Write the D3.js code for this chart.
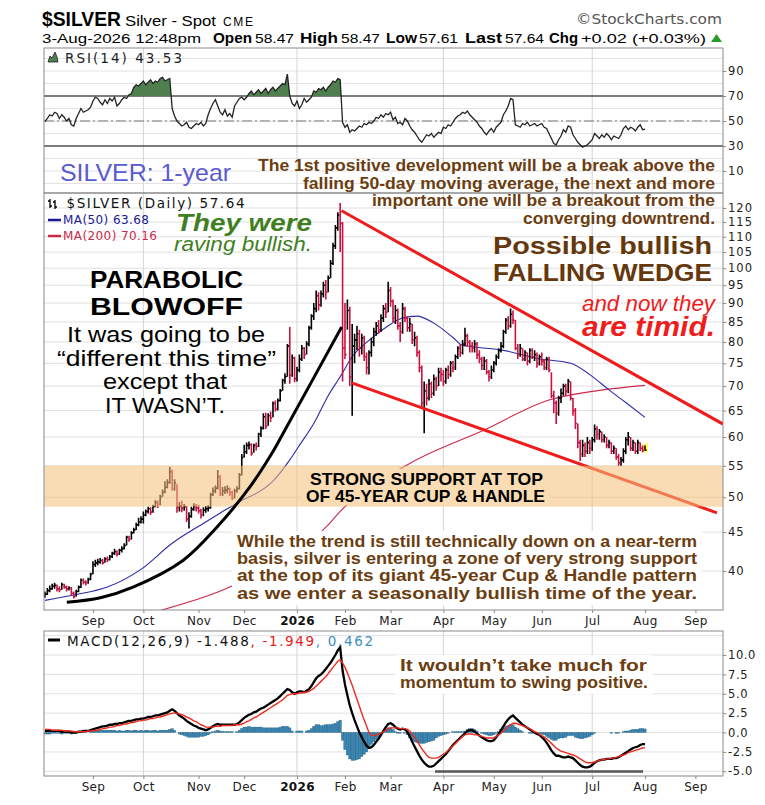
<!DOCTYPE html>
<html><head><meta charset="utf-8">
<script src="https://cdn.jsdelivr.net/npm/d3@7"></script>
<style>html,body{margin:0;padding:0;background:#fff;}svg{display:block;}</style>
</head><body>
<svg id="chart" width="765" height="805"></svg>
<script>
// ================= DATA =================
const startDate = "2025-08-04";
const holidays = ["2025-09-01","2025-11-27","2025-12-25","2026-01-01","2026-01-19","2026-02-16","2026-04-03","2026-05-25","2026-06-19","2026-07-03","2026-09-07"];

const closes = [
37.3,37.7,37.9,38.2,38.3,37.9,37.8,38.4,38.1,37.9,38.0,37.4,37.0,37.6,38.1,38.9,38.7,38.6,39.0,39.6,
40.8,41.0,41.1,41.3,41.0,41.5,41.4,41.8,42.2,42.4,42.1,42.6,42.8,43.2,44.3,44.0,44.9,45.3,46.0,46.4,46.8,
47.4,47.9,48.3,47.8,48.6,49.2,48.9,50.0,50.8,51.5,52.3,54.0,51.3,52.2,48.5,48.7,48.4,48.6,46.8,47.2,48.2,48.6,48.4,
48.0,47.4,48.1,48.3,48.4,50.4,51.0,51.4,53.2,50.6,51.0,51.1,51.3,50.7,49.9,51.0,51.3,53.5,56.4,
57.4,58.5,58.6,57.1,58.5,58.3,60.5,61.6,63.8,62.0,64.0,63.6,66.4,65.3,67.0,69.0,71.2,72.0,79.0,72.3,76.2,71.6,
73.5,76.0,78.5,77.0,79.5,83.5,86.5,88.5,92.0,89.5,92.5,95.0,93.0,97.0,101.5,107.0,113.0,117.5,114.5,78.5,
77.0,88.0,72.0,79.0,80.5,82.0,78.5,81.0,76.5,74.0,77.5,80.0,82.5,84.0,83.0,86.0,88.5,87.5,93.5,
90.5,86.0,88.0,84.0,82.5,88.5,86.0,83.5,84.5,80.5,81.0,77.5,74.0,66.5,69.0,67.5,70.5,68.5,71.5,70.0,73.0,72.5,
71.0,73.5,72.5,75.0,74.0,76.5,78.5,77.5,79.5,81.5,80.0,79.0,78.5,79.5,77.0,76.0,74.5,75.5,73.0,72.0,73.5,
75.0,76.5,78.0,79.0,82.5,85.5,84.0,87.0,85.5,78.5,77.0,78.5,76.0,77.5,75.5,78.0,76.5,77.0,75.0,76.5,
75.5,74.0,76.0,73.5,68.0,66.5,64.5,67.5,68.5,70.0,69.0,71.0,67.5,65.0,62.5,59.0,57.0,58.5,57.5,59.0,58.0,
59.5,61.5,60.5,61.0,59.5,60.0,58.5,59.0,57.5,58.0,56.5,55.5,56.0,57.5,59.5,60.0,58.0,59.0,57.5,59.0,58.0,57.6,
57.64];
const highs = [
37.6,38.0,38.3,38.5,38.6,38.4,38.2,38.6,38.5,38.3,38.2,38.1,37.6,37.8,38.3,39.1,39.1,38.9,39.2,39.8,
41.2,41.4,41.5,41.6,41.5,41.7,41.8,42.0,42.4,42.8,42.6,42.8,43.1,43.5,44.5,44.5,45.1,45.6,46.3,47.0,47.2,
47.9,48.2,48.6,48.5,48.9,49.6,49.5,50.4,51.2,52.5,52.8,54.8,54.4,52.8,52.0,49.3,49.5,49.0,48.7,47.8,48.6,49.1,49.0,
48.9,48.3,48.5,48.7,48.8,50.7,51.5,51.8,54.3,53.5,51.6,51.7,51.8,51.5,51.0,51.3,51.7,53.8,57.0,
58.6,59.0,59.2,58.9,58.8,59.0,60.8,62.0,64.5,64.6,64.5,64.8,66.8,67.0,67.4,69.4,71.6,72.8,79.5,83.7,77.0,76.5,
74.2,77.0,79.3,78.8,80.2,84.0,87.0,90.0,93.5,93.0,93.5,96.0,96.5,97.8,102.5,108.0,114.0,118.5,121.8,115.0,
90.0,91.0,89.0,84.5,82.0,84.0,83.0,82.0,81.5,77.5,78.0,81.0,83.5,85.0,85.5,87.0,89.5,90.0,96.0,
94.5,91.0,89.5,88.5,85.0,90.0,89.0,86.5,86.0,84.5,82.5,81.5,78.0,74.5,71.0,70.5,71.5,71.0,72.5,72.0,74.0,74.0,
73.5,74.0,74.5,75.5,75.5,77.0,79.0,79.5,80.5,83.5,82.0,80.5,80.0,80.5,80.0,78.0,76.5,76.5,76.0,73.5,74.5,
75.5,77.0,78.5,80.0,83.0,86.0,86.5,88.5,88.0,85.5,79.5,79.5,78.5,78.0,77.5,78.5,78.5,78.0,77.5,77.0,
77.5,76.0,76.5,76.5,73.0,69.0,67.0,68.0,69.5,70.5,70.5,71.5,71.0,67.5,65.5,62.5,59.5,59.5,59.0,60.0,59.5,
60.0,62.3,62.0,61.5,61.0,60.5,60.0,59.5,59.0,58.5,58.0,57.0,56.5,58.0,60.0,60.9,60.0,59.5,59.0,59.5,59.0,58.5,
58.47];
const lows = [
36.9,37.2,37.5,37.8,37.9,37.6,37.5,37.8,37.9,37.6,37.7,37.2,36.8,37.0,37.5,38.0,38.4,38.3,38.5,38.9,
39.6,40.5,40.7,40.9,40.8,41.0,41.1,41.3,41.6,42.0,41.8,42.0,42.3,42.7,43.2,43.7,44.0,44.8,45.3,45.8,46.2,
46.2,47.2,47.6,47.4,47.7,48.5,48.4,48.8,50.1,50.6,51.4,52.1,51.0,51.0,47.7,47.9,47.8,48.0,46.4,45.5,47.0,48.0,47.9,
47.6,46.9,47.2,47.7,47.9,48.3,50.2,50.6,51.2,50.2,50.2,50.5,50.6,50.2,49.6,49.8,50.7,51.2,53.4,
56.4,57.0,57.8,56.7,57.2,57.6,58.2,60.0,61.4,61.5,62.1,62.8,63.7,64.8,65.0,66.8,69.0,70.5,72.0,70.5,72.0,70.8,
71.0,73.0,75.5,76.0,77.0,79.0,83.0,85.5,87.5,88.0,89.0,91.5,91.0,93.0,97.0,101.0,106.0,112.0,105.0,71.0,
76.0,83.0,70.0,64.0,75.0,78.0,76.5,77.0,75.5,72.5,72.5,76.5,79.0,81.5,82.0,82.5,85.0,86.0,87.5,
89.0,85.0,84.5,83.0,80.0,82.0,85.0,82.5,82.5,79.5,79.0,76.5,73.0,65.5,60.7,66.0,67.0,67.5,68.0,69.0,70.0,71.0,
70.0,70.5,71.5,72.0,73.0,73.5,76.0,76.5,77.0,79.0,79.0,77.5,77.5,77.5,76.0,75.0,73.5,73.5,72.5,71.0,71.5,
73.0,74.5,76.0,77.5,78.5,82.0,83.0,83.5,84.5,78.0,76.0,76.5,75.5,75.5,74.5,75.0,76.0,75.5,74.0,74.5,
74.5,73.5,73.5,73.0,67.5,64.5,62.4,64.0,66.5,68.0,68.0,68.5,67.0,64.0,61.5,58.0,55.8,56.5,56.5,57.0,57.0,
57.5,59.0,59.5,59.5,59.0,59.0,58.0,58.0,57.0,57.0,56.0,55.0,55.0,55.5,57.0,58.5,57.5,57.5,57.0,57.0,57.5,57.3,
57.61];

const rsi = [
49.5,52,55,54,57,56,52,55,53,50,52, 47,46, 52,56,60,57,58,59,61,
66,69,68,65,63,67,64,68,66,69, 62, 64,67,69,68,71,72,
77,79,78,80,82,79,81,83,80,82,81,84,85,82,83,84, 60,54,
50,48,46,47,49,45,44,46,48,47,49,46,48, 55,60,64,67,62, 57,55,59,54,56,53,
62,65,68,69,67,69, 72,74,71,73,75,72,74,76,72,75,77,74,76,78,80,79, 87.5, 70,
64,62,66,60,63,68,65,67, 69,74,73,76,75,77,74,77,79, 82,81,84,83,
49,45,47,41,43,42,44, 46,45,48,47,49,48,50, 53,52,55,53,56,55,57, 51,53,48,49,47,52,50,
46,43,41,38,35,33, 36,39,38,40,37,39,41,40, 45,44,47,46,49,52,54,55, 57,56,58,55,
53,51,49,46,44,41,39, 42,44,41,45,47,49, 55,58,62,68,67, 47,
46,45,48,47,49,46,47,48,46,47,48,45,44, 40,36,32,31,35,38, 43,41,46,45,
39,36,33,31,29,30,31,33,35, 40,38,36,39,37,40,38,35,38,37,36,39, 44,46,43,45,44,42,45,47,43,43.53];

const macdLine = [
0.2,0.2,0.2,0.2,0.2,0.2,0.2,0.1,0.1,0.1,0.1,0.0,0.0,0.0,0.1,0.1,0.2,0.2,0.2,0.3,0.4,
0.5,0.6,0.7,0.8,0.8,0.9,1.0,1.0,1.1,1.1,1.2,1.2,1.3,1.4,1.5,1.5,1.6,1.7,1.7,1.8,
1.8,1.9,2.0,2.0,2.1,2.2,2.2,2.3,2.4,2.5,2.6,2.8,3.0,
2.8,2.5,2.2,2.0,1.8,1.5,1.3,1.1,0.9,0.8,0.6,0.5,0.4,0.3,
0.4,0.6,0.8,1.0,1.1,1.0,1.0,1.0,1.0,1.0,1.0,1.0,1.1,
1.3,1.6,1.9,2.1,2.3,2.4,2.6,2.7,2.9,3.1,3.2,3.4,3.6,3.8,4.0,4.2,4.4,4.7,5.0,5.3,5.6,5.5,
5.2,5.0,5.2,5.3,5.3,5.2,5.4,5.6,6.0,6.5,
7.0,7.3,7.5,7.8,8.2,8.6,9.0,9.5,10.0,10.6,11.0,
8.0,6.2,4.8,3.5,2.5,1.6,0.8,0.0,-0.6,-1.2,-1.7,-2.0,
-1.9,-1.6,-1.2,-0.8,-0.3,0.2,0.7,1.1,1.2,
1.0,0.7,0.5,0.4,0.5,0.4,0.1,
-0.5,-1.2,-1.8,-2.4,-3.0,-3.5,-3.9,-4.2,-4.4,-4.4,-4.3,
-4.0,-3.7,-3.4,-3.1,-2.8,-2.4,-2.0,-1.6,-1.3,-1.0,-0.7,-0.4,-0.1,0.2,0.3,0.3,
0.1,-0.1,-0.4,-0.6,-0.8,-1.0,-1.1,-1.1,-1.0,
-0.6,-0.2,0.3,0.8,1.3,1.7,2.0,2.2,
1.9,1.6,1.3,1.0,0.8,0.6,0.4,0.2,0.0,-0.2,-0.3,
-0.6,-0.9,-1.3,-1.8,-2.3,-2.7,-3.0,-3.0,-3.1,
-3.2,-3.2,-3.1,-3.2,-3.3,-3.6,-3.9,-4.2,
-4.4,-4.5,-4.5,-4.4,-4.2,-3.9,
-3.7,-3.6,-3.5,-3.5,-3.4,-3.4,-3.4,-3.3,
-3.3,-3.2,-3.0,-2.8,-2.6,-2.4,-2.2,-2.0,-1.9,-1.8,-1.6,-1.5,-1.488];
const signalLine = [
0.4,0.4,0.4,0.3,0.3,0.3,0.3,0.3,0.2,0.2,0.2,0.2,0.1,0.1,0.1,0.1,0.1,0.1,0.2,0.2,0.2,
0.3,0.3,0.4,0.5,0.5,0.6,0.7,0.7,0.8,0.9,0.9,1.0,1.1,1.1,1.2,1.3,1.3,1.4,1.5,1.5,
1.6,1.6,1.7,1.8,1.8,1.9,2.0,2.0,2.1,2.2,2.3,2.4,2.5,
2.5,2.5,2.4,2.3,2.2,2.0,1.9,1.7,1.5,1.4,1.2,1.0,0.9,0.7,
0.7,0.7,0.7,0.8,0.8,0.8,0.9,0.9,0.9,0.9,0.9,1.0,1.0,
1.0,1.1,1.2,1.4,1.5,1.7,1.9,2.0,2.2,2.4,2.6,2.8,3.0,3.2,3.4,3.6,3.8,4.0,4.2,4.5,4.8,4.9,
5.0,5.0,5.0,5.1,5.1,5.2,5.2,5.3,5.5,5.7,
6.0,6.3,6.6,6.9,7.2,7.6,8.0,8.4,8.8,9.2,9.4,
9.0,8.4,7.7,6.9,6.1,5.2,4.3,3.4,2.5,1.6,0.8,0.0,
-0.4,-0.4,-0.3,-0.2,-0.1,0.1,0.3,0.5,0.6,
0.6,0.6,0.6,0.5,0.5,0.5,0.4,
0.2,-0.2,-0.6,-1.1,-1.6,-2.1,-2.5,-2.9,-3.2,-3.3,-3.3,
-3.3,-3.2,-3.0,-2.8,-2.6,-2.3,-2.0,-1.7,-1.4,-1.1,-0.8,-0.5,-0.3,-0.2,-0.2,-0.2,
-0.3,-0.3,-0.4,-0.5,-0.6,-0.7,-0.7,-0.7,-0.7,
-0.5,-0.3,-0.1,0.2,0.5,0.8,1.0,1.2,
1.2,1.1,1.0,0.9,0.8,0.6,0.5,0.3,0.1,0.0,-0.2,
-0.4,-0.6,-0.8,-1.1,-1.4,-1.7,-2.0,-2.2,-2.4,
-2.5,-2.6,-2.7,-2.8,-2.9,-3.0,-3.2,-3.4,
-3.6,-3.8,-3.9,-3.9,-3.9,-3.8,
-3.7,-3.6,-3.5,-3.5,-3.4,-3.4,-3.3,-3.3,
-3.2,-3.1,-3.0,-2.9,-2.8,-2.6,-2.5,-2.4,-2.3,-2.2,-2.1,-2.0,-1.949];

// moving averages: [trading-day index, value]
const ma50 = [[0,36.6],[12,37.2],[26,38.1],[40,40.2],[53,43.5],[67,46.4],[76,48.3],[81,49.3],[95,52.5],[102,56.0],[106,58.5],[112,62.5],[118,68.0],[123,72.0],[128,76.5],[135,80.4],[142,83.6],[149,86.0],[155,86.5],[162,84.7],[170,81.1],[174,79.2],[179,78.8],[191,78.0],[205,76.1],[219,75.0],[228,72.1],[235,69.2],[242,66.6],[250,63.68]];
const ma200 = [[48,35.5],[77,38.1],[118,46.0],[123,47.9],[152,55.4],[183,61.3],[210,67.1],[231,69.1],[250,70.16]];

// annotation geometry in data terms: [trading-day index, price]
const wedgeUpper = [[123.6,119.0],[282.5,62.4]];
const wedgeLower = [[127.8,70.7],[280.0,47.7]];
const parabola = [[9.1,36.4],[23.1,36.9],[36.7,38.1],[57.5,41.3],[71.7,45.7],[85.4,51.6],[93.8,56.6],[100.0,61.3],[123.6,83.7]];
const supportBand = [48.6, 55.0];
const macdSupport = [[162.5,-5.03],[249.2,-5.03]];

const priceTicks = [120,115,110,105,100,95,90,85,80,75,70,65,60,55,50,45,40];
const rsiTicks = [90,70,50,30,10];
const macdTicks = [10,7.5,5,2.5,0,-2.5,-5];
const monthLabels = ["Sep","Oct","Nov","Dec","2026","Feb","Mar","Apr","May","Jun","Jul","Aug","Sep"];
const monthStarts = ["2025-09-01","2025-10-01","2025-11-01","2025-12-01","2026-01-01","2026-02-01","2026-03-01","2026-04-01","2026-05-01","2026-06-01","2026-07-01","2026-08-01","2026-09-01"];
const quarterStarts = ["2025-10-01","2026-01-01","2026-04-01","2026-07-01"];

// ================= CALENDAR =================
function tradingDays(start, n){
  const out=[]; const hs=new Set(holidays);
  let d=new Date(start+"T00:00:00Z");
  while(out.length<n){
    const dow=d.getUTCDay(); const s=d.toISOString().slice(0,10);
    if(dow!==0 && dow!==6 && !hs.has(s)) out.push(s);
    d=new Date(d.getTime()+86400000);
  }
  return out;
}
const days = tradingDays(startDate, 300);
const idxOf = s => days.findIndex(d => d >= s);
const monthIdx = monthStarts.map(idxOf);
const quarterIdx = quarterStarts.map(idxOf);

// ================= LAYOUT / SCALES =================
const X0=44, X1=723;
const RT=48, RB=193, PT=193, PB=610, MT=631, MB=776;
const x  = d3.scaleLinear().domain([-0.4,282.5]).range([X0,X1]);
const yR = d3.scaleLinear().domain([-7.6,108.4]).range([RB,RT]);
const yP = d3.scaleLog().domain([35.55,125.57]).range([PB,PT]);
const yM = d3.scaleLinear().domain([-5.61,13.1]).range([MB,MT]);

const svg = d3.select("#chart");
const defs = svg.append("defs");
function clip(id,x0,y0,x1,y1){defs.append("clipPath").attr("id",id).append("rect").attr("x",x0).attr("y",y0).attr("width",x1-x0).attr("height",y1-y0);}
clip("cR",X0,RT,X1,RB); clip("cP",X0,PT,X1,PB); clip("cM",X0,MT,X1,MB);
clip("cRup",X0,RT,X1,yR(70)); clip("cRdn",X0,yR(30),X1,RB);

svg.append("rect").attr("width",765).attr("height",805).attr("fill","#fff");

const SANS="'Liberation Sans', Arial, sans-serif";
const NARROW="'Liberation Sans Narrow','Liberation Sans', Arial, sans-serif";
const DV="'DejaVu Sans', Verdana, sans-serif";
function T(g,s,o){
  const t=g.append("text").attr("x",o.x).attr("y",o.y).text(s)
    .attr("font-family",o.f||SANS).attr("font-size",o.size).attr("fill",o.fill||"#000");
  if(o.w) t.attr("font-weight",o.w);
  if(o.it) t.attr("font-style","italic");
  if(o.tl) t.attr("textLength",o.tl).attr("lengthAdjust",o.la||"spacingAndGlyphs");
  if(o.anchor) t.attr("text-anchor",o.anchor);
  return t;
}

// ================= GRID =================
const grid=svg.append("g");
d3.range(0,101,10).forEach(v=>grid.append("line").attr("x1",X0).attr("x2",X1).attr("y1",yR(v)).attr("y2",yR(v)).attr("stroke","#e3e3e3"));
priceTicks.forEach(v=>grid.append("line").attr("x1",X0).attr("x2",X1).attr("y1",yP(v)).attr("y2",yP(v)).attr("stroke","#e0e0e0"));
[-5,-2.5,0,2.5,5,7.5,10,12.5].forEach(v=>grid.append("line").attr("x1",X0).attr("x2",X1).attr("y1",yM(v)).attr("y2",yM(v)).attr("stroke","#e0e0e0"));
quarterIdx.forEach(i=>{
  [[RT,RB],[PT,PB],[MT,MB]].forEach(([a,b])=>grid.append("line").attr("x1",x(i)).attr("x2",x(i)).attr("y1",a).attr("y2",b).attr("stroke","#d4d4d4"));
});

// ================= RSI PANEL =================
const gR=svg.append("g");
gR.append("line").attr("x1",X0).attr("x2",X1).attr("y1",yR(70)).attr("y2",yR(70)).attr("stroke","#555").attr("stroke-width",1.3);
gR.append("line").attr("x1",X0).attr("x2",X1).attr("y1",yR(30)).attr("y2",yR(30)).attr("stroke","#555").attr("stroke-width",1.3);
gR.append("line").attr("x1",X0).attr("x2",X1).attr("y1",yR(50)).attr("y2",yR(50)).attr("stroke","#777").attr("stroke-dasharray","10,3,2,3");
gR.append("path").datum(rsi).attr("clip-path","url(#cRup)").attr("fill","#4f7f4f")
  .attr("d",d3.area().x((d,i)=>x(i)).y0(yR(70)).y1(d=>yR(d)));
gR.append("path").datum(rsi).attr("clip-path","url(#cRdn)").attr("fill","#4f7f4f")
  .attr("d",d3.area().x((d,i)=>x(i)).y0(yR(30)).y1(d=>yR(d)));
gR.append("path").datum(rsi).attr("fill","none").attr("stroke","#222").attr("stroke-width",1.3)
  .attr("d",d3.line().x((d,i)=>x(i)).y(d=>yR(d)));
gR.append("path").attr("d","M48,62 L50,56 L52,58 L55,52 L57,57 L58,62 Z").attr("fill","#4f7f4f").attr("stroke","#222").attr("stroke-width",0.8);
T(gR,"RSI(14) 43.53",{x:65,y:63,size:13.5,f:DV,fill:"#222",tl:117,la:"spacing"});

// ================= PRICE PANEL =================
const gP=svg.append("g").attr("clip-path","url(#cP)");
gP.append("path").datum(ma200).attr("fill","none").attr("stroke","#cc2a4a").attr("stroke-width",1.1)
  .attr("d",d3.line().x(d=>x(d[0])).y(d=>yP(d[1])).curve(d3.curveMonotoneX));
gP.append("path").datum(ma50).attr("fill","none").attr("stroke","#2b2ba8").attr("stroke-width",1.1)
  .attr("d",d3.line().x(d=>x(d[0])).y(d=>yP(d[1])).curve(d3.curveMonotoneX));
const li=closes.length-1;
gP.append("rect").attr("x",x(li)-2).attr("y",yP(highs[li])-2).attr("width",5).attr("height",yP(lows[li])-yP(highs[li])+4).attr("fill","#ffff55");
let dUp="",dDn="";
closes.forEach((c,i)=>{
  const xi=x(i), s=`M${xi},${yP(highs[i])}V${yP(lows[i])}M${xi},${yP(c)}H${xi+1.6}`;
  if(i>0 && c<closes[i-1]) dDn+=s; else dUp+=s;
});
gP.append("path").attr("d",dUp).attr("stroke","#000").attr("stroke-width",1.6).attr("fill","none");
gP.append("path").attr("d",dDn).attr("stroke","#cc1040").attr("stroke-width",1.6).attr("fill","none");
[wedgeUpper,wedgeLower].forEach(w=>gP.append("path").datum(w).attr("fill","none").attr("stroke","#ee1c1c").attr("stroke-width",3)
  .attr("d",d3.line().x(d=>x(d[0])).y(d=>yP(d[1]))));
gP.append("rect").attr("x",X0).attr("width",X1-X0).attr("y",yP(supportBand[1])).attr("height",yP(supportBand[0])-yP(supportBand[1]))
  .attr("fill","rgb(245,193,123)").attr("opacity",0.57);
gP.append("path").datum(parabola).attr("fill","none").attr("stroke","#000").attr("stroke-width",3)
  .attr("d",d3.line().x(d=>x(d[0])).y(d=>yP(d[1])).curve(d3.curveCatmullRom));

// ================= MACD PANEL =================
const gM=svg.append("g").attr("clip-path","url(#cM)");
const hist=macdLine.map((m,i)=>m-signalLine[i]);
gM.selectAll("rect.h").data(hist).enter().append("rect")
  .attr("x",(d,i)=>x(i)-1.2).attr("width",2.4)
  .attr("y",d=>Math.min(yM(d),yM(0))).attr("height",d=>Math.abs(yM(d)-yM(0)))
  .attr("fill","#3b87b3").attr("stroke","#1f5a7c").attr("stroke-width",0.35);
gM.append("path").datum(macdLine).attr("fill","none").attr("stroke","#000").attr("stroke-width",2.3)
  .attr("d",d3.line().x((d,i)=>x(i)).y(d=>yM(d)));
gM.append("path").datum(signalLine).attr("fill","none").attr("stroke","#ee2a1e").attr("stroke-width",1.4)
  .attr("d",d3.line().x((d,i)=>x(i)).y(d=>yM(d)));
gM.append("path").datum(macdSupport).attr("stroke","#555").attr("stroke-width",2.5)
  .attr("d",d3.line().x(d=>x(d[0])).y(d=>yM(d[1])));

// ================= ANNOTATIONS =================
const gA=svg.append("g");
gA.append("rect").attr("x",301).attr("y",469).attr("width",249).attr("height",36).attr("fill","#f9dcb4");
T(gA,"STRONG SUPPORT AT TOP",{x:310,y:484.5,size:16.5,w:"bold",tl:233});
T(gA,"OF 45-YEAR CUP & HANDLE",{x:306,y:501.5,size:16.5,w:"bold",tl:239});
gA.append("rect").attr("x",232).attr("y",531).attr("width",470).attr("height",74).attr("fill","#fff");
const BROWN="#6b3d10";
["While the trend is still technically down on a near-term",
 "basis, silver is entering a zone of very strong support",
 "at the top of its giant 45-year Cup & Handle pattern",
 "as we enter a seasonally bullish time of the year."].forEach((s,i)=>
  T(gA,s,{x:237,y:[547,563.5,581,599][i],size:16,w:"bold",fill:BROWN,tl:460}));
[["The 1st positive development will be a break above the",258,171],
 ["falling 50-day moving average, the next and more",303,188.5],
 ["important one will be a breakout from the",372,206],
 ["converging downtrend.",523,224]].forEach(([s,x0,y0])=>
  T(gA,s,{x:x0,y:y0,size:16,w:"bold",fill:BROWN,tl:715-x0}));
T(gA,"SILVER: 1-year",{x:60,y:181,size:24,fill:"#5a5ad2",tl:171});
T(gA,"They were",{x:176,y:231,size:24.5,w:"bold",it:true,fill:"#3f7f1f",tl:136});
T(gA,"raving bullish.",{x:174,y:251,size:20.5,it:true,fill:"#3f7f1f",tl:138});
T(gA,"PARABOLIC",{x:90,y:288,size:23,w:"bold",tl:153});
T(gA,"BLOWOFF",{x:90,y:315,size:23,w:"bold",tl:153});
T(gA,"It was going to be",{x:67,y:342,size:22,tl:198});
T(gA,"\u201Cdifferent this time\u201D",{x:57,y:365.5,size:22,tl:219});
T(gA,"except that",{x:103,y:388.5,size:22,tl:124});
T(gA,"IT WASN\u2019T.",{x:105,y:412.5,size:22.5,tl:120});
T(gA,"Possible bullish",{x:493,y:254,size:23,w:"bold",fill:"#64380c",tl:219});
T(gA,"FALLING WEDGE",{x:493,y:281,size:23,w:"bold",fill:"#64380c",tl:219});
T(gA,"and now they",{x:582,y:310.5,size:22,it:true,fill:"#ee1c1c",tl:133});
T(gA,"are timid.",{x:582,y:336,size:27,w:"bold",it:true,fill:"#ee1c1c",tl:133});
gA.append("rect").attr("x",395).attr("y",655).attr("width",258).attr("height",39).attr("fill","#fff");
T(gA,"It wouldn\u2019t take much for",{x:400,y:670.5,size:16,w:"bold",fill:BROWN,tl:247});
T(gA,"momentum to swing positive.",{x:400,y:688,size:16,w:"bold",fill:BROWN,tl:248});

// ================= LEGENDS =================
const gL=svg.append("g");
gL.append("path").attr("d","M50,199V208M48,201H50M50,206H52M55,200V209M53,202H55M55,207H57").attr("stroke","#000").attr("stroke-width",1.3).attr("fill","none");
T(gL,"$SILVER (Daily) 57.64",{x:66.5,y:208,size:13.5,f:DV,fill:"#111",tl:178,la:"spacing"});
gL.append("line").attr("x1",48).attr("x2",61).attr("y1",220).attr("y2",220).attr("stroke","#1a1a99").attr("stroke-width",2.5);
T(gL,"MA(50) 63.68",{x:63,y:224,size:12,f:DV,fill:"#1a1a99",tl:86,la:"spacing"});
gL.append("line").attr("x1",48).attr("x2",61).attr("y1",236).attr("y2",236).attr("stroke","#cc2a4a").attr("stroke-width",2.5);
T(gL,"MA(200) 70.16",{x:63,y:240,size:12,f:DV,fill:"#cc2a4a",tl:94,la:"spacing"});
gL.append("line").attr("x1",48).attr("x2",60).attr("y1",640).attr("y2",640).attr("stroke","#000").attr("stroke-width",3);
const mt=gL.append("text").attr("x",67).attr("y",645.5).attr("font-family",DV).attr("font-size",13.5)
  .attr("textLength",306).attr("lengthAdjust","spacing");
mt.append("tspan").attr("fill","#111").text("MACD(12,26,9) -1.488");
mt.append("tspan").attr("fill","#e8201a").text(", -1.949");
mt.append("tspan").attr("fill","#3a8fc0").text(", 0.462");

// ================= AXES =================
function styleAxis(g,size,ls){
  g.select(".domain").remove();
  g.attr("font-family",null).attr("font-size",null);
  g.selectAll("line").attr("stroke","#888");
  g.selectAll("text").attr("font-family",DV).attr("font-size",size).attr("letter-spacing",ls).attr("fill","#222");
}
styleAxis(svg.append("g").attr("transform",`translate(${X1},0)`)
  .call(d3.axisRight(yR).tickValues(rsiTicks).tickFormat(d=>String(d)).tickSize(3).tickPadding(2)),11.5,"1px");
styleAxis(svg.append("g").attr("transform",`translate(${X1},0)`)
  .call(d3.axisRight(yP).tickValues(priceTicks).tickFormat(d=>String(d)).tickSize(3).tickPadding(2)),11.5,"1px");
styleAxis(svg.append("g").attr("transform",`translate(${X1},0)`)
  .call(d3.axisRight(yM).tickValues(macdTicks).tickFormat(d=>d.toFixed(1)).tickSize(3).tickPadding(2)),11.5,"0.6px");
[PB,MB].forEach(yy=>{
  const g=svg.append("g").attr("transform",`translate(0,${yy})`)
    .call(d3.axisBottom(x).tickValues(monthIdx).tickFormat((d,i)=>monthLabels[i]).tickSize(3).tickPadding(3));
  styleAxis(g,12,"0.3px");
  g.selectAll("text").filter(function(){return this.textContent==="2026";}).attr("font-weight","bold").attr("fill","#111");
});

[[RT,RB],[PT,PB],[MT,MB]].forEach(([a,b])=>svg.append("rect").attr("x",X0).attr("y",a).attr("width",X1-X0).attr("height",b-a)
  .attr("fill","none").attr("stroke","#8a8a8a").attr("stroke-width",1));

// ================= HEADER =================
const gH=svg.append("g");
T(gH,"$SILVER",{x:42,y:26,size:20,w:"bold",f:NARROW,tl:79});
T(gH,"Silver - Spot",{x:125,y:26,size:15,f:NARROW,tl:91});
T(gH,"CME",{x:223,y:26,size:12,f:NARROW,tl:30,la:"spacing"});
T(gH,"\u00A9StockCharts.com",{x:576,y:24,size:13.5,f:DV,fill:"#555",tl:146});
const hy=43;
T(gH,"3-Aug-2026 12:48pm",{x:42,y:hy,size:13,f:NARROW,tl:159});
[["Open",213,39,1],["58.47",255,39,0],["High",300,38,1],["58.47",341,39,0],["Low",386,31,1],["57.61",419,39,0],
 ["Last",465,37,1],["57.64",505,39,0],["Chg",549,29,1],["+0.02 (+0.03%)",581,125,0]].forEach(([s,x0,tl,b])=>
  T(gH,s,{x:x0,y:hy,size:b?15:13,w:b?"bold":null,f:NARROW,tl:tl}));
gH.append("path").attr("d",`M711,${hy-1}L722,${hy-1}L716.5,${hy-9}Z`).attr("fill","#2a9a2a");
</script>
</body></html>
